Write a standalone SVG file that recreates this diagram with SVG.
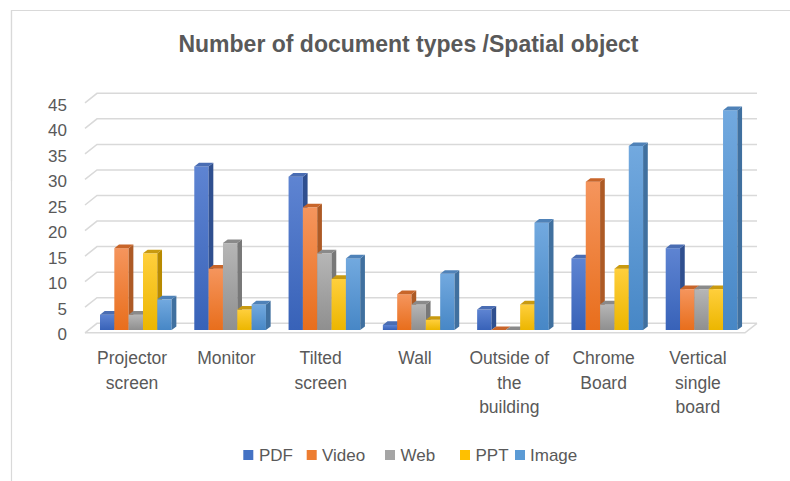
<svg xmlns="http://www.w3.org/2000/svg" width="790" height="481" viewBox="0 0 790 481">
<defs>
<linearGradient id="gP" x1="0" y1="0" x2="0" y2="1"><stop offset="0" stop-color="#5e84d2"/><stop offset="1" stop-color="#3862b8"/></linearGradient>
<linearGradient id="gV" x1="0" y1="0" x2="0" y2="1"><stop offset="0" stop-color="#f5955d"/><stop offset="1" stop-color="#e86e1c"/></linearGradient>
<linearGradient id="gW" x1="0" y1="0" x2="0" y2="1"><stop offset="0" stop-color="#b6b6b6"/><stop offset="1" stop-color="#8f8f8f"/></linearGradient>
<linearGradient id="gT" x1="0" y1="0" x2="0" y2="1"><stop offset="0" stop-color="#ffcf3c"/><stop offset="1" stop-color="#ecb600"/></linearGradient>
<linearGradient id="gI" x1="0" y1="0" x2="0" y2="1"><stop offset="0" stop-color="#72a9df"/><stop offset="1" stop-color="#4787c6"/></linearGradient>
</defs>
<style>
text{font-family:"Liberation Sans",Arial,sans-serif;fill:#595959}
.title{font-size:23px;font-weight:bold}
.ax{font-size:17px;text-anchor:end}
.cat{font-size:17.5px;text-anchor:middle}
.lg{font-size:17px}
.grid{stroke:#d9d9d9;stroke-width:1.5;fill:none}
.pf{fill:url(#gP)}.ps{fill:#2f4f8f}.pt{fill:#4a6db3}
.vf{fill:url(#gV)}.vs{fill:#ad5a25}.vt{fill:#c8652a}
.wf{fill:url(#gW)}.ws{fill:#787878}.wt{fill:#8a8a8a}
.tf{fill:url(#gT)}.ts{fill:#b88a00}.tt{fill:#c99a10}
.if{fill:url(#gI)}.is{fill:#40709f}.it{fill:#4f82b8}
</style>
<rect width="790" height="481" fill="#ffffff"/>
<path d="M11.5,181 V10.5 H790" stroke="#d9d9d9" stroke-width="1.2" fill="none"/>
<path d="M11.5,10.5 V481" stroke="#d9d9d9" stroke-width="1.2" fill="none"/>
<text class="title" x="408.5" y="51.5" text-anchor="middle">Number of document types /Spatial object</text>

<g id="gridlines">
<path class="grid" d="M85,332.8 L97,323.3 H757 M85,307.2 L97,297.7 H757 M85,281.7 L97,272.2 H757 M85,256.1 L97,246.6 H757 M85,230.6 L97,221.1 H757 M85,205 L97,195.5 H757 M85,179.4 L97,169.9 H757 M85,153.9 L97,144.4 H757 M85,128.3 L97,118.8 H757 M85,102.8 L97,93.3 H757"/>
<path class="grid" d="M85,332.8 H745 L757,323.3"/>
</g>

<g id="yaxis">
<text class="ax" x="67" y="340">0</text>
<text class="ax" x="67" y="314.5">5</text>
<text class="ax" x="67" y="289">10</text>
<text class="ax" x="67" y="263.6">15</text>
<text class="ax" x="67" y="238.1">20</text>
<text class="ax" x="67" y="212.6">25</text>
<text class="ax" x="67" y="187.1">30</text>
<text class="ax" x="67" y="161.7">35</text>
<text class="ax" x="67" y="136.2">40</text>
<text class="ax" x="67" y="110.7">45</text>
</g>

<g id="cat-projector" transform="translate(100,330)">
<g transform="translate(0,-15.33)"><rect class="pf" width="14.33" height="15.33"/><path class="ps" d="M14.33 0l4.7-3.6v15.33l-4.7 3.6z"/><path class="pt" d="M0 0l4.7-3.6h14.33l-4.7 3.6z"/></g>
<g transform="translate(14.33,-81.78)"><rect class="vf" width="14.33" height="81.78"/><path class="vs" d="M14.33 0l4.7-3.6v81.78l-4.7 3.6z"/><path class="vt" d="M0 0l4.7-3.6h14.33l-4.7 3.6z"/></g>
<g transform="translate(28.67,-15.33)"><rect class="wf" width="14.33" height="15.33"/><path class="ws" d="M14.33 0l4.7-3.6v15.33l-4.7 3.6z"/><path class="wt" d="M0 0l4.7-3.6h14.33l-4.7 3.6z"/></g>
<g transform="translate(43,-76.67)"><rect class="tf" width="14.33" height="76.67"/><path class="ts" d="M14.33 0l4.7-3.6v76.67l-4.7 3.6z"/><path class="tt" d="M0 0l4.7-3.6h14.33l-4.7 3.6z"/></g>
<g transform="translate(57.33,-30.67)"><rect class="if" width="14.33" height="30.67"/><path class="is" d="M14.33 0l4.7-3.6v30.67l-4.7 3.6z"/><path class="it" d="M0 0l4.7-3.6h14.33l-4.7 3.6z"/></g>
</g>

<g id="cat-monitor" transform="translate(194.29,330)">
<g transform="translate(0,-163.56)"><rect class="pf" width="14.33" height="163.56"/><path class="ps" d="M14.33 0l4.7-3.6v163.56l-4.7 3.6z"/><path class="pt" d="M0 0l4.7-3.6h14.33l-4.7 3.6z"/></g>
<g transform="translate(14.33,-61.33)"><rect class="vf" width="14.33" height="61.33"/><path class="vs" d="M14.33 0l4.7-3.6v61.33l-4.7 3.6z"/><path class="vt" d="M0 0l4.7-3.6h14.33l-4.7 3.6z"/></g>
<g transform="translate(28.67,-86.89)"><rect class="wf" width="14.33" height="86.89"/><path class="ws" d="M14.33 0l4.7-3.6v86.89l-4.7 3.6z"/><path class="wt" d="M0 0l4.7-3.6h14.33l-4.7 3.6z"/></g>
<g transform="translate(43,-20.44)"><rect class="tf" width="14.33" height="20.44"/><path class="ts" d="M14.33 0l4.7-3.6v20.44l-4.7 3.6z"/><path class="tt" d="M0 0l4.7-3.6h14.33l-4.7 3.6z"/></g>
<g transform="translate(57.33,-25.56)"><rect class="if" width="14.33" height="25.56"/><path class="is" d="M14.33 0l4.7-3.6v25.56l-4.7 3.6z"/><path class="it" d="M0 0l4.7-3.6h14.33l-4.7 3.6z"/></g>
</g>

<g id="cat-tilted" transform="translate(288.57,330)">
<g transform="translate(0,-153.33)"><rect class="pf" width="14.33" height="153.33"/><path class="ps" d="M14.33 0l4.7-3.6v153.33l-4.7 3.6z"/><path class="pt" d="M0 0l4.7-3.6h14.33l-4.7 3.6z"/></g>
<g transform="translate(14.33,-122.67)"><rect class="vf" width="14.33" height="122.67"/><path class="vs" d="M14.33 0l4.7-3.6v122.67l-4.7 3.6z"/><path class="vt" d="M0 0l4.7-3.6h14.33l-4.7 3.6z"/></g>
<g transform="translate(28.67,-76.67)"><rect class="wf" width="14.33" height="76.67"/><path class="ws" d="M14.33 0l4.7-3.6v76.67l-4.7 3.6z"/><path class="wt" d="M0 0l4.7-3.6h14.33l-4.7 3.6z"/></g>
<g transform="translate(43,-51.11)"><rect class="tf" width="14.33" height="51.11"/><path class="ts" d="M14.33 0l4.7-3.6v51.11l-4.7 3.6z"/><path class="tt" d="M0 0l4.7-3.6h14.33l-4.7 3.6z"/></g>
<g transform="translate(57.33,-71.56)"><rect class="if" width="14.33" height="71.56"/><path class="is" d="M14.33 0l4.7-3.6v71.56l-4.7 3.6z"/><path class="it" d="M0 0l4.7-3.6h14.33l-4.7 3.6z"/></g>
</g>

<g id="cat-wall" transform="translate(382.86,330)">
<g transform="translate(0,-5.11)"><rect class="pf" width="14.33" height="5.11"/><path class="ps" d="M14.33 0l4.7-3.6v5.11l-4.7 3.6z"/><path class="pt" d="M0 0l4.7-3.6h14.33l-4.7 3.6z"/></g>
<g transform="translate(14.33,-35.78)"><rect class="vf" width="14.33" height="35.78"/><path class="vs" d="M14.33 0l4.7-3.6v35.78l-4.7 3.6z"/><path class="vt" d="M0 0l4.7-3.6h14.33l-4.7 3.6z"/></g>
<g transform="translate(28.67,-25.56)"><rect class="wf" width="14.33" height="25.56"/><path class="ws" d="M14.33 0l4.7-3.6v25.56l-4.7 3.6z"/><path class="wt" d="M0 0l4.7-3.6h14.33l-4.7 3.6z"/></g>
<g transform="translate(43,-10.22)"><rect class="tf" width="14.33" height="10.22"/><path class="ts" d="M14.33 0l4.7-3.6v10.22l-4.7 3.6z"/><path class="tt" d="M0 0l4.7-3.6h14.33l-4.7 3.6z"/></g>
<g transform="translate(57.33,-56.22)"><rect class="if" width="14.33" height="56.22"/><path class="is" d="M14.33 0l4.7-3.6v56.22l-4.7 3.6z"/><path class="it" d="M0 0l4.7-3.6h14.33l-4.7 3.6z"/></g>
</g>

<g id="cat-outside" transform="translate(477.14,330)">
<g transform="translate(0,-20.44)"><rect class="pf" width="14.33" height="20.44"/><path class="ps" d="M14.33 0l4.7-3.6v20.44l-4.7 3.6z"/><path class="pt" d="M0 0l4.7-3.6h14.33l-4.7 3.6z"/></g>
<g transform="translate(14.33,0)"><path class="vt" d="M0 0l4.7-3.6h14.33l-4.7 3.6z"/></g>
<g transform="translate(28.67,0)"><path class="wt" d="M0 0l4.7-3.6h14.33l-4.7 3.6z"/></g>
<g transform="translate(43,-25.56)"><rect class="tf" width="14.33" height="25.56"/><path class="ts" d="M14.33 0l4.7-3.6v25.56l-4.7 3.6z"/><path class="tt" d="M0 0l4.7-3.6h14.33l-4.7 3.6z"/></g>
<g transform="translate(57.33,-107.33)"><rect class="if" width="14.33" height="107.33"/><path class="is" d="M14.33 0l4.7-3.6v107.33l-4.7 3.6z"/><path class="it" d="M0 0l4.7-3.6h14.33l-4.7 3.6z"/></g>
</g>

<g id="cat-chrome" transform="translate(571.43,330)">
<g transform="translate(0,-71.56)"><rect class="pf" width="14.33" height="71.56"/><path class="ps" d="M14.33 0l4.7-3.6v71.56l-4.7 3.6z"/><path class="pt" d="M0 0l4.7-3.6h14.33l-4.7 3.6z"/></g>
<g transform="translate(14.33,-148.22)"><rect class="vf" width="14.33" height="148.22"/><path class="vs" d="M14.33 0l4.7-3.6v148.22l-4.7 3.6z"/><path class="vt" d="M0 0l4.7-3.6h14.33l-4.7 3.6z"/></g>
<g transform="translate(28.67,-25.56)"><rect class="wf" width="14.33" height="25.56"/><path class="ws" d="M14.33 0l4.7-3.6v25.56l-4.7 3.6z"/><path class="wt" d="M0 0l4.7-3.6h14.33l-4.7 3.6z"/></g>
<g transform="translate(43,-61.33)"><rect class="tf" width="14.33" height="61.33"/><path class="ts" d="M14.33 0l4.7-3.6v61.33l-4.7 3.6z"/><path class="tt" d="M0 0l4.7-3.6h14.33l-4.7 3.6z"/></g>
<g transform="translate(57.33,-184)"><rect class="if" width="14.33" height="184"/><path class="is" d="M14.33 0l4.7-3.6v184l-4.7 3.6z"/><path class="it" d="M0 0l4.7-3.6h14.33l-4.7 3.6z"/></g>
</g>

<g id="cat-vertical" transform="translate(665.71,330)">
<g transform="translate(0,-81.78)"><rect class="pf" width="14.33" height="81.78"/><path class="ps" d="M14.33 0l4.7-3.6v81.78l-4.7 3.6z"/><path class="pt" d="M0 0l4.7-3.6h14.33l-4.7 3.6z"/></g>
<g transform="translate(14.33,-40.89)"><rect class="vf" width="14.33" height="40.89"/><path class="vs" d="M14.33 0l4.7-3.6v40.89l-4.7 3.6z"/><path class="vt" d="M0 0l4.7-3.6h14.33l-4.7 3.6z"/></g>
<g transform="translate(28.67,-40.89)"><rect class="wf" width="14.33" height="40.89"/><path class="ws" d="M14.33 0l4.7-3.6v40.89l-4.7 3.6z"/><path class="wt" d="M0 0l4.7-3.6h14.33l-4.7 3.6z"/></g>
<g transform="translate(43,-40.89)"><rect class="tf" width="14.33" height="40.89"/><path class="ts" d="M14.33 0l4.7-3.6v40.89l-4.7 3.6z"/><path class="tt" d="M0 0l4.7-3.6h14.33l-4.7 3.6z"/></g>
<g transform="translate(57.33,-219.78)"><rect class="if" width="14.33" height="219.78"/><path class="is" d="M14.33 0l4.7-3.6v219.78l-4.7 3.6z"/><path class="it" d="M0 0l4.7-3.6h14.33l-4.7 3.6z"/></g>
</g>

<g id="categories">
<text class="cat" x="132.1" y="364">Projector</text>
<text class="cat" x="132.1" y="388.5">screen</text>
<text class="cat" x="226.4" y="364">Monitor</text>
<text class="cat" x="320.7" y="364">Tilted</text>
<text class="cat" x="320.7" y="388.5">screen</text>
<text class="cat" x="415" y="364">Wall</text>
<text class="cat" x="509.3" y="364">Outside of</text>
<text class="cat" x="509.3" y="388.5">the</text>
<text class="cat" x="509.3" y="413">building</text>
<text class="cat" x="603.6" y="364">Chrome</text>
<text class="cat" x="603.6" y="388.5">Board</text>
<text class="cat" x="697.9" y="364">Vertical</text>
<text class="cat" x="697.9" y="388.5">single</text>
<text class="cat" x="697.9" y="413">board</text>
</g>

<g id="legend">
<rect x="243.3" y="450" width="10" height="10" fill="#4472c4"/>
<text class="lg" x="259" y="460.7">PDF</text>
<rect x="306.7" y="450" width="10" height="10" fill="#ed7d31"/>
<text class="lg" x="322" y="460.7">Video</text>
<rect x="385" y="450" width="10" height="10" fill="#a5a5a5"/>
<text class="lg" x="400.5" y="460.7">Web</text>
<rect x="460" y="450" width="10" height="10" fill="#ffc000"/>
<text class="lg" x="475.5" y="460.7">PPT</text>
<rect x="515" y="450" width="10" height="10" fill="#5b9bd5"/>
<text class="lg" x="530" y="460.7">Image</text>
</g>
</svg>
